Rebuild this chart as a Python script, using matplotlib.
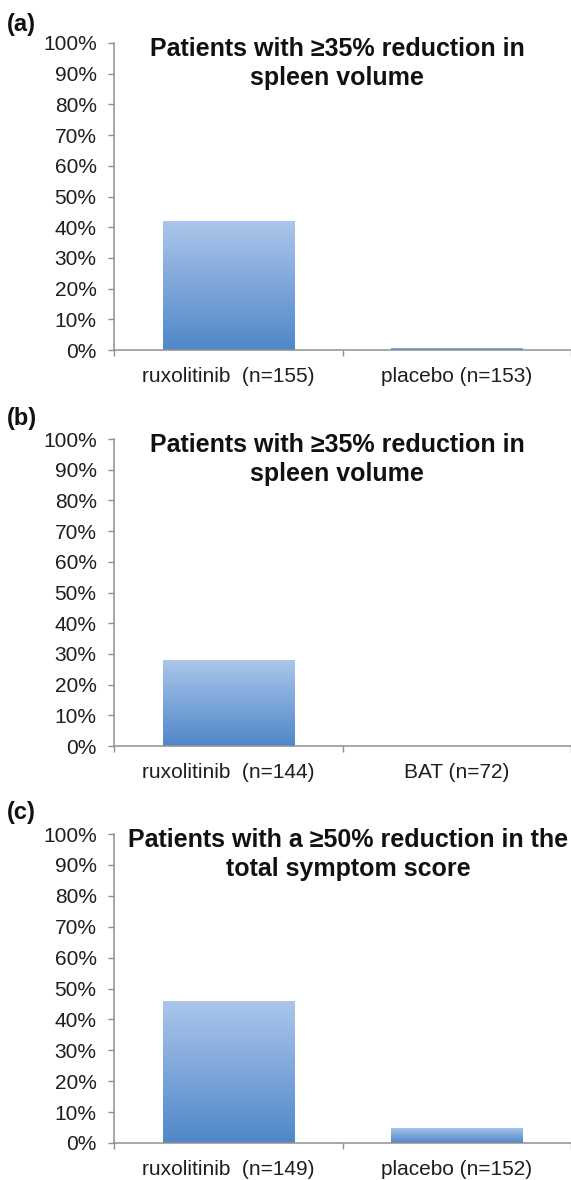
import numpy as np
import matplotlib
matplotlib.use("Agg")
import matplotlib.pyplot as plt
from matplotlib.colors import LinearSegmentedColormap
from matplotlib.ticker import PercentFormatter

plt.rcParams["font.family"] = ["Liberation Sans", "DejaVu Sans"]

# Response rates (%) per panel
panel_tags = ["(a)", "(b)", "(c)"]
titles = [
    "Patients with \u226535% reduction in\nspleen volume",
    "Patients with \u226535% reduction in\nspleen volume",
    "Patients with a \u226550% reduction in the\ntotal symptom score",
]
groups_a = ["ruxolitinib  (n=155)", "placebo (n=153)"]
groups_b = ["ruxolitinib  (n=144)", "BAT (n=72)"]
groups_c = ["ruxolitinib  (n=149)", "placebo (n=152)"]
values_a = [41.9, 0.7]
values_b = [28.0, 0.0]
values_c = [45.9, 5.0]

groups = [groups_a, groups_b, groups_c]
values = [values_a, values_b, values_c]

W, H = 571, 1180
fig = plt.figure(figsize=(W / 100, H / 100), dpi=100)

# axes boxes in pixels: (top, bottom) of the 0-100% range
boxes = [(43, 350), (439, 746), (834, 1143)]
title_x = [337, 337, 348]
tag_y = [24, 419, 813]

blues = LinearSegmentedColormap.from_list("bar_grad", ["#4f87c9", "#abc6ea"])
grad = np.linspace(0, 1, 256).reshape(-1, 1)
axis_grey = "#8f8f8f"

for i in range(3):
    top, bottom = boxes[i]
    ax = fig.add_axes([114 / W, 1 - bottom / H, (W - 114) / W, (bottom - top) / H])
    x = np.arange(len(groups[i]))
    bars = ax.bar(x, values[i], width=0.575, color="none", edgecolor="none")
    for b in bars:
        if b.get_height() <= 0:
            continue
        im = ax.imshow(grad, cmap=blues, aspect="auto", origin="lower",
                       extent=[b.get_x(), b.get_x() + b.get_width(), 0, b.get_height()],
                       zorder=2)
        im.set_clip_path(b)

    ax.set_xlim(-0.5, 1.5)
    ax.set_ylim(0, 100)
    ax.set_yticks(np.arange(0, 101, 10))
    ax.yaxis.set_major_formatter(PercentFormatter(decimals=0))
    ax.set_xticks(x)
    ax.set_xticklabels(groups[i])
    ax.set_xticks([-0.5, 0.5, 1.5], minor=True)

    for side in ["top", "right"]:
        ax.spines[side].set_visible(False)
    for side in ["left", "bottom"]:
        ax.spines[side].set_color(axis_grey)
        ax.spines[side].set_linewidth(1.1)

    ax.tick_params(axis="y", length=4.5, width=1.0, color=axis_grey, pad=8,
                   labelsize=15, labelcolor="#1e1e1e")
    ax.tick_params(axis="x", which="major", length=0, pad=12,
                   labelsize=15, labelcolor="#1e1e1e")
    ax.tick_params(axis="x", which="minor", length=4.5, width=1.0, color=axis_grey)

    fig.text(title_x[i] / W, 1 - (top - 6) / H, titles[i], ha="center", va="top",
             fontsize=18, fontweight="bold", linespacing=1.25, color="#111111")
    fig.text(7 / W, 1 - tag_y[i] / H, panel_tags[i], ha="left", va="center",
             fontsize=17, fontweight="bold", color="#111111")

fig.savefig("out.png", dpi=100)
